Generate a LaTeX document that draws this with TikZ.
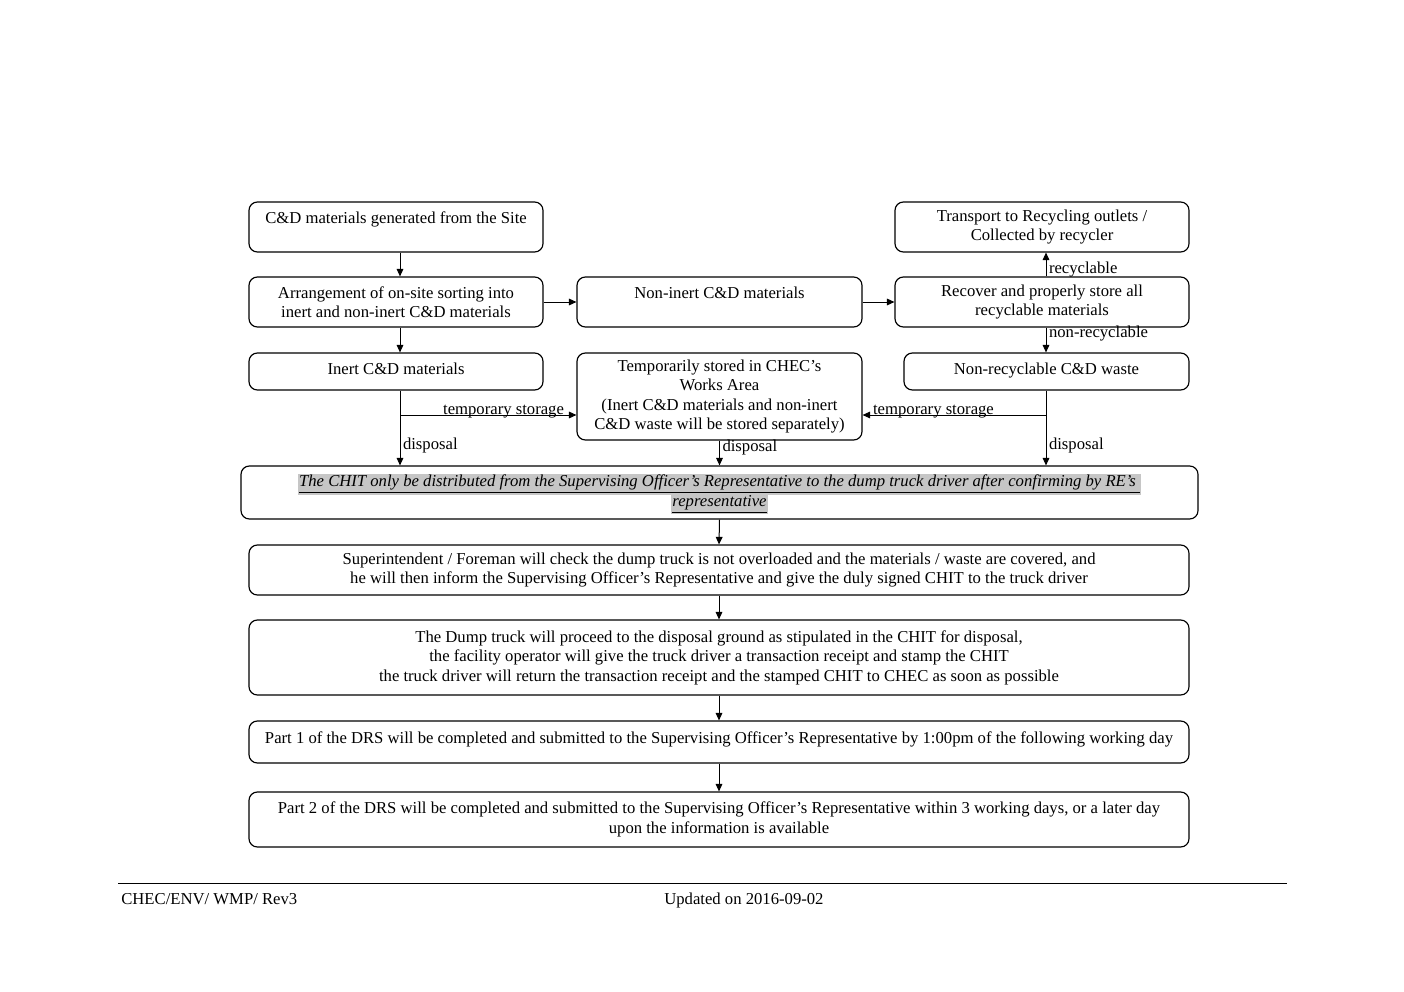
\documentclass[tikz,border=0pt]{standalone}
\usepackage{fontspec}
\setmainfont{Liberation Serif}
\usetikzlibrary{arrows.meta,calc}
\definecolor{hlgray}{RGB}{198,198,198}
\newcommand\hlu[1]{\strut\smash{{\setlength{\fboxsep}{0.6pt}\colorbox{hlgray}{\underline{#1}}}}}
\newcommand\flowbox[7][]{\node[box, minimum width={(#5-#3)*0.6pt}, minimum height={(#6-#4)*0.6pt}, #1] (#2) at ({(#3+#5)/2},{(#4+#6)/2}) {#7};}
\begin{document}
\begin{tikzpicture}[x=0.6pt,y=-0.6pt,
  box/.style={draw, rounded corners=5pt, line width=0.7pt, align=center, font=\fontsize{10}{11.7}\selectfont, inner sep=0pt},
  arr/.style={-{Triangle[length=4.5pt,width=4pt]}, line width=0.6pt},
  lbl/.style={font=\fontsize{10}{11.7}\selectfont, inner sep=1.5pt}]
\useasboundingbox (0,0) rectangle (1404,992);
\coordinate (xl) at (400,0);
\coordinate (xr) at (1046,0);
\coordinate (tl) at (400,415);
\coordinate (tr) at (1046,415);

\flowbox{A}{249}{202}{543}{252}{C\&D materials generated from the Site\\\mbox{}}
\flowbox{B}{249}{277}{543}{327}{Arrangement of on-site sorting into\\inert and non-inert C\&D materials}
\flowbox[text height=7pt, text depth=3.5pt]{C}{249}{353}{543}{390}{Inert C\&D materials}
\flowbox{D}{577}{277}{862}{327}{Non-inert C\&D materials\\\mbox{}}
\flowbox{E}{577}{353}{862}{440}{Temporarily stored in CHEC’s\\Works Area\\(Inert C\&D materials and non-inert\\C\&D waste will be stored separately)}
\flowbox{F}{895}{202}{1189}{252}{Transport to Recycling outlets /\\Collected by recycler}
\flowbox{G}{895}{277}{1189}{327}{Recover and properly store all\\recyclable materials}
\flowbox[text height=7pt, text depth=3.5pt]{H}{904}{353}{1189}{390}{Non-recyclable C\&D waste}
\node[box, font=\fontsize{10}{11.7}\selectfont\itshape, minimum width={(1198-241)*0.6pt}, minimum height={(519-466)*0.6pt}] (I) at ({(241+1198)/2},{(466+519)/2}) {\hlu{The CHIT only be distributed from the Supervising Officer’s Representative to the dump truck driver after confirming by RE’s\ }\\\hlu{representative}};
\flowbox{J}{249}{545}{1189}{595}{Superintendent / Foreman will check the dump truck is not overloaded and the materials / waste are covered, and\\he will then inform the Supervising Officer’s Representative and give the duly signed CHIT to the truck driver}
\flowbox{K}{249}{620}{1189}{695}{The Dump truck will proceed to the disposal ground as stipulated in the CHIT for disposal,\\the facility operator will give the truck driver a transaction receipt and stamp the CHIT\\the truck driver will return the transaction receipt and the stamped CHIT to CHEC as soon as possible}
\flowbox[text height=7pt, text depth=5.5pt]{L}{249}{721}{1189}{763}{Part 1 of the DRS will be completed and submitted to the Supervising Officer’s Representative by 1:00pm of the following working day}
\flowbox{M}{249}{792}{1189}{847}{Part 2 of the DRS will be completed and submitted to the Supervising Officer’s Representative within 3 working days, or a later day\\upon the information is available}

\draw[arr] (A.south -| xl) -- (B.north -| xl);
\draw[arr] (B.south -| xl) -- (C.north -| xl);
\draw[arr] (B.east) -- (D.west);
\draw[arr] (D.east) -- (G.west);
\draw[arr] (G.north -| xr) -- (F.south -| xr) node[lbl, pos=0.28, anchor=west] {recyclable};
\draw[arr] (G.south -| xr) -- (H.north -| xr) node[lbl, pos=0.23, anchor=west] {non-recyclable};
\draw[arr] (C.south -| xl) -- (I.north -| xl) node[lbl, pos=0.74, anchor=west] {disposal};
\draw[arr] (H.south -| xr) -- (I.north -| xr) node[lbl, pos=0.74, anchor=west] {disposal};
\draw[arr] (tl) -- (tl -| E.west) node[lbl, pos=1, anchor=base east, xshift=-5.7pt, yshift=0.5pt] {temporary storage};
\draw[arr] (tr) -- (tr -| E.east) node[lbl, pos=1, anchor=base west, xshift=4.5pt, yshift=0.5pt] {temporary storage};
\draw[arr] (E.south) -- (I.north) node[lbl, pos=0.27, anchor=west] {disposal};
\draw[arr] (I.south) -- (J.north);
\draw[arr] (J.south) -- (K.north);
\draw[arr] (K.south) -- (L.north);
\draw[arr] (L.south) -- (M.north);

\draw[line width=0.6pt] (118,883) -- (1287,883);
\node[lbl, anchor=base west, inner sep=0pt] (f1) at (121,904) {CHEC/ENV/ WMP/ Rev3};
\node[lbl, anchor=base west, inner sep=0pt] (f2) at (664,904) {Updated on 2016-09-02};
\end{tikzpicture}
\end{document}
